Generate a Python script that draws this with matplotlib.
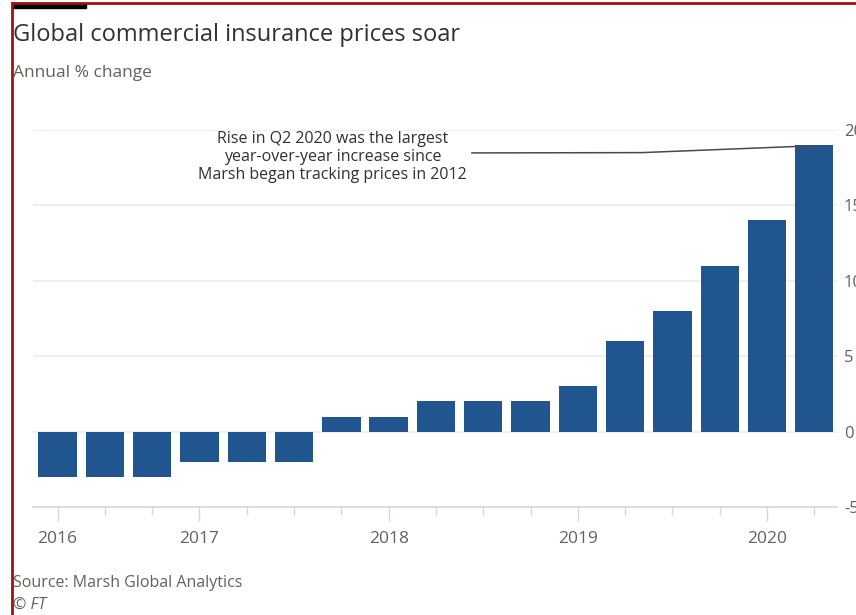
import matplotlib
matplotlib.use("Agg")
import matplotlib.pyplot as plt
from matplotlib.lines import Line2D
from matplotlib.patches import Rectangle

# Data
values = [-3, -3, -3, -2, -2, -2, 1, 1, 2, 2, 2, 3, 6, 8, 11, 14, 19]
year_labels = ["2016", "2017", "2018", "2019", "2020"]
year_positions = [0, 3, 7, 11, 15]
y_ticks = [-5, 0, 5, 10, 15, 20]

title = "Global commercial insurance prices soar"
subtitle = "Annual % change"
source = "Source: Marsh Global Analytics"
note = "Rise in Q2 2020 was the largest\nyear-over-year increase since\nMarsh began tracking prices in 2012"

W, H = 856, 615
fig = plt.figure(figsize=(W / 100, H / 100), dpi=100)
fig.patch.set_facecolor("white")
plt.rcParams['font.family'] = ['Open Sans', 'DejaVu Sans']

def fx(px):
    return px / W

def fy(py):
    return 1 - py / H

ax = fig.add_axes([fx(33), fy(507), fx(837) - fx(33), fy(130) - fy(507)])
x = list(range(len(values)))
ax.bar(x, values, width=0.81, color="#20558f", zorder=3)

ax.set_xlim(-0.52, 16.48)
ax.set_ylim(-5, 20)

for s in ["top", "left", "right"]:
    ax.spines[s].set_visible(False)
ax.spines["bottom"].set_color("#dcd6d2")
ax.spines["bottom"].set_linewidth(1.2)

ax.yaxis.tick_right()
ax.set_yticks(y_ticks)
ax.set_yticklabels([str(v) for v in y_ticks])
ax.tick_params(axis="y", length=0, pad=5, labelsize=12, labelcolor="#66605c")
ax.grid(axis="y", color="#f2ebe6", linewidth=1.2, zorder=0)

ax.set_xticks(x, minor=True)
ax.set_xticks(year_positions)
ax.set_xticklabels(year_labels)
ax.tick_params(axis="x", which="major", length=10, width=1, color="#dcd6d2",
               labelsize=12.5, labelcolor="#66605c", pad=7)
ax.tick_params(axis="x", which="minor", length=6, width=1, color="#dcd6d2")

# Annotation
ax.text(5.82, 18.2, note, ha="center", va="center", fontsize=11.5,
        color="#33302e", linespacing=1.15, zorder=5)
ax.plot([8.76, 12.35, 15.95], [18.48, 18.5, 18.95], color="#4d4845",
        linewidth=1.1, zorder=5, clip_on=False)

# Titles
fig.text(fx(13), fy(35), title, ha="left", va="center", fontsize=17,
         color="#33302e")
fig.text(fx(13), fy(73), subtitle, ha="left", va="center", fontsize=12.5,
         color="#66605c")
fig.text(fx(13), fy(583), source, ha="left", va="center", fontsize=11.5,
         color="#66605c")
fig.text(fx(13), fy(605), "© FT", ha="left", va="center", fontsize=11.5,
         color="#66605c", style="italic")

# Decorative frame and black bar
fig.add_artist(Line2D([fx(12), fx(12)], [0, fy(3)], color="#a50f0f", linewidth=2))
fig.add_artist(Line2D([fx(12), 1], [fy(3), fy(3)], color="#a50f0f", linewidth=2))
fig.add_artist(Rectangle((fx(13), fy(8)), fx(86) - fx(13), fy(4) - fy(8),
                         color="black", transform=fig.transFigure))

fig.savefig("out.png", dpi=100)
